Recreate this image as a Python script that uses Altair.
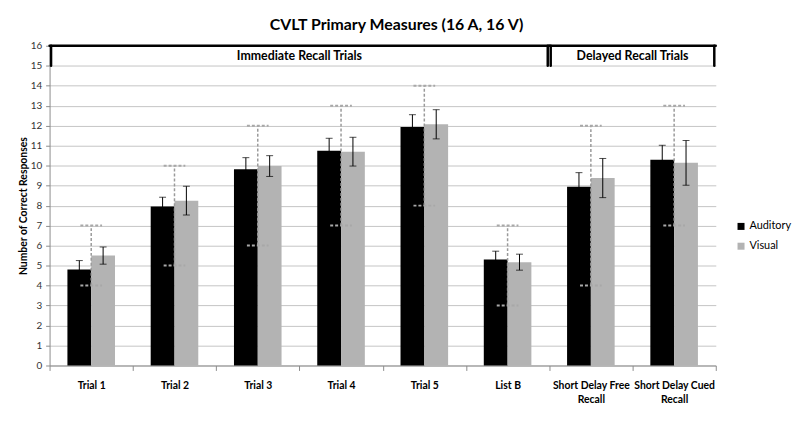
import altair as alt
import pandas as pd

categories = ["Trial 1", "Trial 2", "Trial 3", "Trial 4", "Trial 5", "List B",
              "Short Delay Free Recall", "Short Delay Cued Recall"]
series = ["Auditory", "Visual"]
auditory_mean = [4.80, 7.95, 9.82, 10.75, 11.93, 5.30, 8.95, 10.30]
auditory_err = [0.45, 0.47, 0.58, 0.62, 0.62, 0.42, 0.70, 0.72]
visual_mean = [5.50, 8.25, 9.98, 10.70, 12.07, 5.17, 9.38, 10.14]
visual_err = [0.43, 0.72, 0.52, 0.72, 0.73, 0.40, 0.98, 1.12]
range_min = [4, 5, 6, 7, 8, 3, 4, 7]
range_max = [7, 10, 12, 13, 14, 7, 12, 13]
groups = ["Immediate Recall Trials", "Delayed Recall Trials"]
group_start = [0, 6]   # first category index of each bracket
group_end = [6, 8]     # one past the last category index
bracket_low, bracket_high = 15, 16
y_ticks = list(range(0, 17))
colors = ["#000000", "#b3b3b3"]
FONT = "Lato"
YTITLE = "Number of Correct Responses"

rows = []
for i, c in enumerate(categories):
    for s, m, e in ((series[0], auditory_mean, auditory_err), (series[1], visual_mean, visual_err)):
        rows.append({"category": c, "series": s, "mean": m[i], "lo": m[i] - e[i], "hi": m[i] + e[i]})
bar_df = pd.DataFrame(rows)

range_df = pd.DataFrame({"category": categories, "rmin": range_min, "rmax": range_max})

br_df = pd.DataFrame({
    "group": groups,
    "first": [categories[a] for a in group_start],
    "last": [categories[b - 1] for b in group_end],
    "mid": [categories[(a + b) // 2] for a, b in zip(group_start, group_end)],
    "lo": [bracket_low] * len(groups),
    "hi": [bracket_high] * len(groups),
    "ty": [(bracket_low + bracket_high) / 2] * len(groups),
})

label_expr = ("datum.label == 'Short Delay Free Recall' ? ['Short Delay Free', 'Recall'] : "
              "datum.label == 'Short Delay Cued Recall' ? ['Short Delay Cued', 'Recall'] : datum.label")

x_scale = alt.Scale(domain=categories, paddingInner=0, paddingOuter=0)
x_axis = alt.Axis(title=None, labelAngle=0, labelFont=FONT, labelFontWeight="bold",
                  labelFontSize=10.5, labelColor="#000000", labelExpr=label_expr,
                  tickBand="extent", domainColor="#8c8c8c", tickColor="#8c8c8c",
                  tickSize=5, labelPadding=10, grid=False, labelLineHeight=14)
y_scale = alt.Scale(domain=[y_ticks[0], y_ticks[-1]], nice=False)
y_axis = alt.Axis(values=y_ticks, tickCount=len(y_ticks) + 2, title=YTITLE)


def X(field, bp=None):
    if bp is None:
        return alt.X(field, scale=x_scale, axis=x_axis)
    return alt.X(field, scale=x_scale, axis=x_axis, bandPosition=bp)


def Y(field):
    return alt.Y(field, scale=y_scale, axis=y_axis)


xo = alt.XOffset("series:N", scale=alt.Scale(domain=series, paddingInner=0, paddingOuter=0.75))

bars = alt.Chart(bar_df).mark_bar().encode(
    x=X("category:N"), xOffset=xo, y=Y("mean:Q"),
    color=alt.Color("series:N", scale=alt.Scale(domain=series, range=colors),
                    legend=alt.Legend(title=None, orient="none", legendX=693, legendY=177,
                                      symbolType="square", symbolSize=50, symbolStrokeWidth=0,
                                      labelFont=FONT, labelFontSize=11, labelColor="#000000",
                                      rowPadding=8, padding=0, labelOffset=3, labelLimit=80)),
)
err_rule = alt.Chart(bar_df).mark_rule(color="#000000", strokeWidth=1).encode(
    x=X("category:N"), xOffset=xo, y=Y("lo:Q"), y2="hi:Q")
cap_lo = alt.Chart(bar_df).mark_tick(color="#000000", size=7, thickness=1).encode(
    x=X("category:N"), xOffset=xo, y=Y("lo:Q"))
cap_hi = alt.Chart(bar_df).mark_tick(color="#000000", size=7, thickness=1).encode(
    x=X("category:N"), xOffset=xo, y=Y("hi:Q"))

rng_rule = alt.Chart(range_df).mark_rule(color="#9a9a9a", strokeWidth=1.5, strokeDash=[3, 2]).encode(
    x=X("category:N"), y=Y("rmin:Q"), y2="rmax:Q")
cap_path = "M-1,0L1,0"
rng_top = alt.Chart(range_df).mark_point(shape=cap_path, size=480, filled=False, color="#a8a8a8",
                                         strokeWidth=2, strokeDash=[3, 2], opacity=1).encode(
    x=X("category:N"), y=Y("rmax:Q"))
rng_bot = alt.Chart(range_df).mark_point(shape=cap_path, size=480, filled=False, color="#a8a8a8",
                                         strokeWidth=2, strokeDash=[3, 2], opacity=1).encode(
    x=X("category:N"), y=Y("rmin:Q"))

BR = dict(color="#000000", strokeWidth=2.5, strokeCap="round")
br_top = alt.Chart(br_df).mark_rule(**BR).encode(
    x=X("first:N", 0), x2=alt.X2("last:N", bandPosition=1), y=Y("hi:Q"))
br_left = alt.Chart(br_df).mark_rule(xOffset=1.5, **BR).encode(
    x=X("first:N", 0), y=Y("lo:Q"), y2="hi:Q")
br_right = alt.Chart(br_df).mark_rule(xOffset=-1.5, **BR).encode(
    x=X("last:N", 1), y=Y("lo:Q"), y2="hi:Q")
btext = alt.Chart(br_df).mark_text(font=FONT, fontSize=12.5, fontWeight="bold", color="#000000").encode(
    x=X("mid:N", 0), y=Y("ty:Q"), text="group:N")

chart = alt.layer(bars, err_rule, cap_lo, cap_hi, rng_rule, rng_top, rng_bot,
                  br_top, br_left, br_right, btext).properties(
    width=673, height=323,
    title=alt.TitleParams("CVLT Primary Measures (16 A, 16 V)", font=FONT, fontSize=16,
                          fontWeight="bold", color="#000000", offset=8, dx=14, anchor="middle"),
    autosize=alt.AutoSizeParams(type="none"),
    padding={"left": 42, "top": 36, "right": 77, "bottom": 60},
).configure_view(stroke=None).configure_axisY(
    labelOverlap=False,
    titleFont=FONT, titleFontSize=10.5, titleFontWeight="bold", titleColor="#000000", titlePadding=2,
    grid=True, gridColor="#c4c4c4", domainColor="#8c8c8c", tickColor="#8c8c8c",
    tickSize=4, labelFont=FONT, labelFontSize=10, labelColor="#333333", labelPadding=4,
)

chart.save("out.html", embed_options={"renderer": "svg", "actions": False})
